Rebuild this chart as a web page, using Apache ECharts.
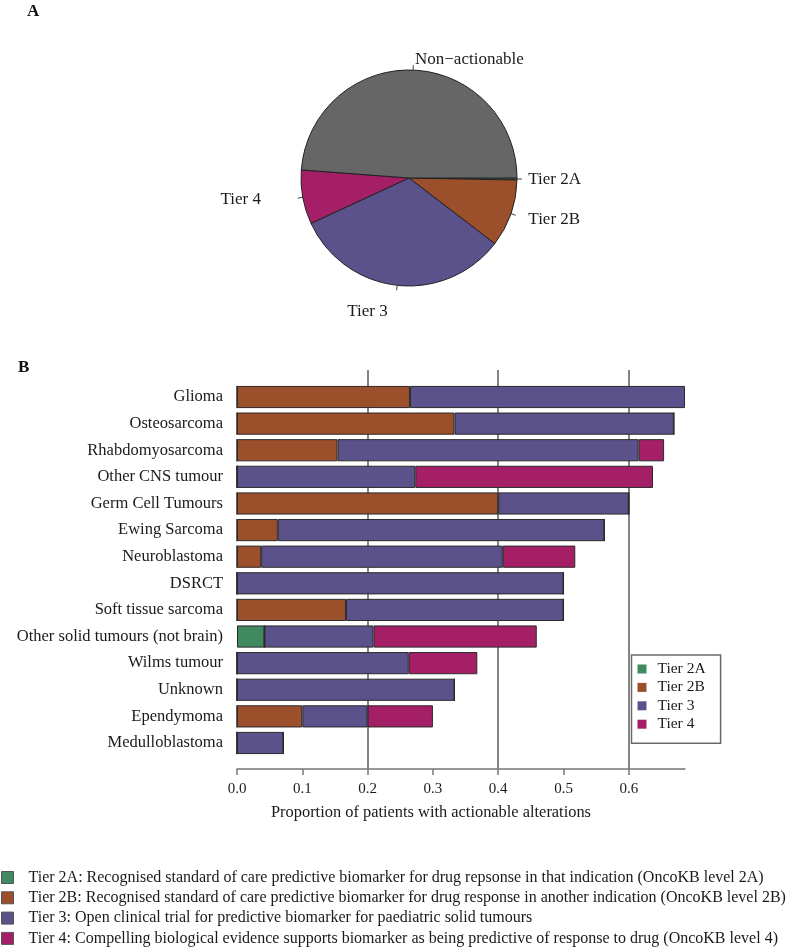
<!DOCTYPE html>
<html>
<head>
<meta charset="utf-8">
<script src="https://cdn.jsdelivr.net/npm/echarts@6/dist/echarts.min.js"></script>
<style>
html,body{margin:0;padding:0;background:#fff;}
#chart{width:787px;height:947px;}
</style>
</head>
<body>
<div id="chart"></div>
<script>
// ---- Panel A: pie ----
var pieNames = ["Tier 2A", "Tier 2B", "Tier 3", "Tier 4", "Non\u2212actionable"];
var pieValues = [0.3, 10.1, 32.7, 8.1, 48.8];

// ---- Panel B: stacked bars ----
var categories = ["Glioma", "Osteosarcoma", "Rhabdomyosarcoma", "Other CNS tumour", "Germ Cell Tumours",
  "Ewing Sarcoma", "Neuroblastoma", "DSRCT", "Soft tissue sarcoma", "Other solid tumours (not brain)",
  "Wilms tumour", "Unknown", "Ependymoma", "Medulloblastoma"];
var tier2A = [0, 0, 0, 0, 0, 0, 0, 0, 0, 0.042, 0, 0, 0, 0];
var tier2B = [0.265, 0.333, 0.154, 0, 0.4, 0.0625, 0.037, 0, 0.167, 0, 0, 0, 0.1, 0];
var tier3  = [0.421, 0.336, 0.461, 0.273, 0.2, 0.5, 0.370, 0.5, 0.333, 0.167, 0.263, 0.333, 0.1, 0.071];
var tier4  = [0, 0, 0.039, 0.364, 0, 0, 0.111, 0, 0, 0.25, 0.105, 0, 0.1, 0];
var tierNames = ["Tier 2A", "Tier 2B", "Tier 3", "Tier 4"];
var xTicks = [0, 0.1, 0.2, 0.3, 0.4, 0.5, 0.6];
var tierDescriptions = [
  "Tier 2A: Recognised standard of care predictive biomarker for drug repsonse in that indication (OncoKB level 2A)",
  "Tier 2B: Recognised standard of care predictive biomarker for drug response in another indication (OncoKB level 2B)",
  "Tier 3: Open clinical trial for predictive biomarker for paediatric solid tumours",
  "Tier 4: Compelling biological evidence supports biomarker as being predictive of response to drug (OncoKB level 4)"
];

// ---- styles ----
var FONT = "Liberation Serif";
var colors = {"Tier 2A": "#418a5f", "Tier 2B": "#9c4f2b", "Tier 3": "#5b528c", "Tier 4": "#a51f67", "Non\u2212actionable": "#666666"};
var pieLabelLayout = {
  "Tier 2A": {length: 11.3, length2: 0, dist: 0, pad: [0, 0, 0, 0]},
  "Tier 2B": {length: 18, length2: 0, dist: 0.4, pad: [9, 0, 0, 0]},
  "Tier 3": {length: 26.5, length2: 6.5, dist: 0, pad: [0, 0, 0, 0]},
  "Tier 4": {length: 11.6, length2: 30.3, dist: 0, pad: [0, 0, 0, 0]},
  "Non\u2212actionable": {length: 11, length2: 0, dist: 1.5, pad: [0, 0, 0, 0]}
};

var tierData = [tier2A, tier2B, tier3, tier4];
var totals = categories.map(function (c, i) { return tier2A[i] + tier2B[i] + tier3[i] + tier4[i]; });
var xMax = Math.max.apply(null, totals);

var pieData = pieNames.map(function (n, i) {
  var L = pieLabelLayout[n];
  return {
    name: n, value: pieValues[i],
    itemStyle: {color: colors[n]},
    label: {distanceToLabelLine: L.dist, padding: L.pad},
    labelLine: {length: L.length, length2: L.length2}
  };
});

var barSeries = tierNames.map(function (t, k) {
  return {
    name: t, type: 'bar', stack: 'tiers', xAxisIndex: 2, yAxisIndex: 1,
    barCategoryGap: '16.7%',
    itemStyle: {color: colors[t], borderColor: '#2a2a2a', borderWidth: 1},
    emphasis: {disabled: true},
    data: tierData[k]
  };
});

var chart = echarts.init(document.getElementById('chart'), null, {renderer: 'canvas'});
chart.setOption({
  animation: false,
  backgroundColor: '#ffffff',
  textStyle: {fontFamily: FONT, color: '#1a1a1a'},
  graphic: [
    {type: 'text', left: 27, top: 3, style: {text: 'A', fontFamily: FONT, fontWeight: 'bold', fontSize: 17, fill: '#111'}},
    {type: 'text', left: 18, top: 359, style: {text: 'B', fontFamily: FONT, fontWeight: 'bold', fontSize: 17, fill: '#111'}}
  ],
  legend: [
    {
      data: tierNames, orient: 'vertical', left: 631.5, top: 655,
      padding: [6, 15, 11, 6], itemWidth: 9, itemHeight: 9, itemGap: 2.4,
      icon: 'rect', itemStyle: {borderWidth: 0},
      backgroundColor: '#fff', borderColor: '#6a6a6a', borderWidth: 1.5,
      textStyle: {fontFamily: FONT, fontSize: 15.5, lineHeight: 12, color: '#1a1a1a', padding: [0, 0, 0, 6]},
      selectedMode: false, z: 10
    },
    {
      data: tierNames, orient: 'vertical', left: 1, top: 869.5, height: 90,
      padding: 0, itemWidth: 12, itemHeight: 12, itemGap: 4.3, icon: 'rect',
      itemStyle: {borderColor: '#555', borderWidth: 1},
      textStyle: {fontFamily: FONT, fontSize: 16, lineHeight: 16, color: '#1a1a1a', padding: [0, 0, 0, 10]},
      formatter: function (name) { return tierDescriptions[tierNames.indexOf(name)]; },
      selectedMode: false
    }
  ],
  grid: [
    {left: 237, top: 370, width: 448, height: 399, containLabel: false},
    {left: 237, top: 383.7, width: 448, height: 372.6, containLabel: false}
  ],
  xAxis: [
    {
      type: 'value', gridIndex: 0, min: 0, max: xMax, interval: 0.2,
      axisLine: {show: false}, axisTick: {show: false}, axisLabel: {show: false},
      splitLine: {show: true, showMinLine: false, showMaxLine: false, lineStyle: {color: '#777', width: 1.8}}
    },
    {
      type: 'value', gridIndex: 0, min: 0, max: xMax, position: 'bottom',
      axisLine: {show: true, lineStyle: {color: '#777', width: 1.5}},
      axisTick: {show: true, customValues: xTicks, length: 6, lineStyle: {color: '#777', width: 1.5}},
      axisLabel: {show: true, customValues: xTicks, margin: 13, fontSize: 15, color: '#1a1a1a', fontFamily: FONT,
        formatter: function (v) { return v.toFixed(1); }},
      splitLine: {show: false},
      name: 'Proportion of patients with actionable alterations', nameLocation: 'middle', nameGap: 36,
      nameTextStyle: {fontSize: 16.4, color: '#1a1a1a', fontFamily: FONT, padding: [0, 60, 0, 0]}
    },
    {type: 'value', gridIndex: 1, min: 0, max: xMax, show: false}
  ],
  yAxis: [
    {type: 'value', gridIndex: 0, min: 0, max: 1, show: false},
    {
      type: 'category', gridIndex: 1, data: categories, inverse: true,
      axisLine: {show: false}, axisTick: {show: false},
      axisLabel: {fontSize: 16.5, margin: 14, color: '#1a1a1a', fontFamily: FONT}
    }
  ],
  series: [
    {
      type: 'pie', center: [409, 178], radius: 108, startAngle: 0, clockwise: true,
      avoidLabelOverlap: false, silent: true,
      itemStyle: {borderColor: '#222', borderWidth: 1},
      label: {show: true, position: 'outside', fontSize: 17, fontFamily: FONT, color: '#1a1a1a'},
      labelLine: {show: true, lineStyle: {color: '#444', width: 1, type: [5, 400]}},
      data: pieData
    }
  ].concat(barSeries)
});
</script>
</body>
</html>
